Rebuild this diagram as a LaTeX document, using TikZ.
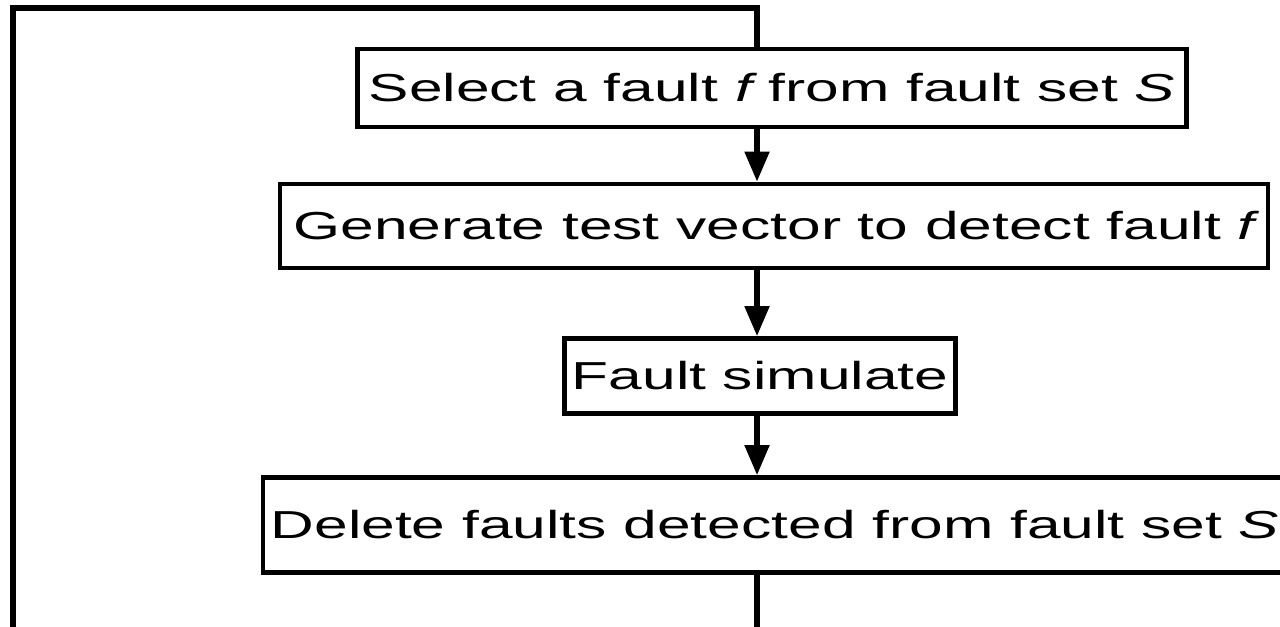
\documentclass[tikz,border=0pt]{standalone}
\usepackage{fontspec}
\setmainfont{Liberation Sans}
\usepackage{graphicx}
\usetikzlibrary{arrows.meta,positioning,calc}

% Text in the reference is stretched sideways
\newcommand{\wide}[1]{\scalebox{1.55}[1]{#1}}

\begin{document}
\begin{tikzpicture}[font=\fontsize{11.1}{13}\selectfont,
    stepbox/.style={draw=black, line width=1.35pt, inner sep=0pt, align=center},
    flowline/.style={draw=black, line width=1.45pt},
    flowarrow/.style={flowline, -{Triangle[length=0.3cm,width=0.24cm]}}]

    % Frame of the picture: 1280 x 627 px, 100 px per cm
    \clip (0,0) rectangle (12.8,6.27);

    % Vertical spine that carries the arrows
    \def\spineX{7.57}
    \coordinate (spine) at (\spineX,0);
    % Corners of the return path (left edge, top, below the frame)
    \coordinate (looptop) at (0.13,6.19);
    \coordinate (loopbot) at (0.13,-0.4);

    % Steps
    \node[stepbox, minimum width=8.29cm, minimum height=0.78cm] (select) at (7.72,5.39)
        {\wide{Select a fault {\itshape f} from fault set {\itshape S}}};
    \node[stepbox, minimum width=9.88cm, minimum height=0.84cm] (generate) at (7.74,4.01)
        {\wide{Generate test vector to detect fault {\itshape f}}};
    \node[stepbox, minimum width=3.91cm, minimum height=0.75cm] (simulate) at (7.60,2.51)
        {\wide{Fault simulate}};
    \node[stepbox, minimum width=10.24cm, minimum height=0.95cm] (delete) at (7.75,1.02)
        {\wide{Delete faults detected from fault set {\itshape S}}};

    % Arrows down the spine
    \draw[flowarrow] (select.south -| spine) -- (generate.north -| spine);
    \draw[flowarrow] (generate.south -| spine) -- (simulate.north -| spine);
    \draw[flowarrow] (simulate.south -| spine) -- (delete.north -| spine);

    % Loop back to the first step
    \draw[flowline] (delete.south -| spine) |- (loopbot) -- (looptop) -| (select.north -| spine);
\end{tikzpicture}
\end{document}
